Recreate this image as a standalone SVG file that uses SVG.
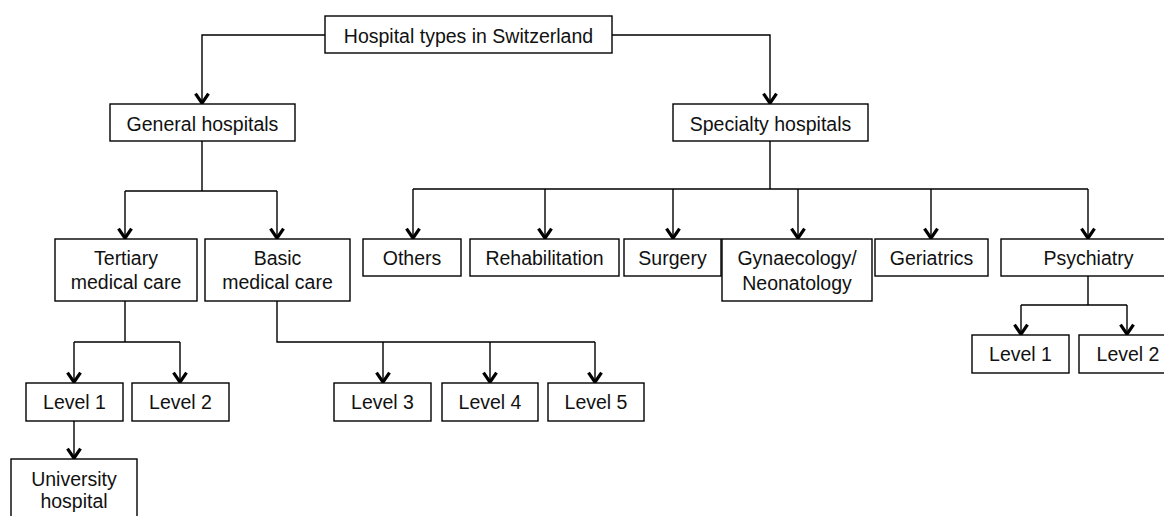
<svg xmlns="http://www.w3.org/2000/svg" width="1164" height="516" viewBox="0 0 1164 516">
  <style>
    .box { fill: #ffffff; stroke: #000000; stroke-width: 1.4; }
    .lbl { font-family: "Liberation Sans", Arial, Helvetica, sans-serif; font-size: 19.5px; fill: #111111; text-anchor: middle; }
    .edge { fill: none; stroke: #000000; stroke-width: 1.4; }
    .arrow { marker-end: url(#vhead); }
  </style>
  <defs>
    <marker id="vhead" markerUnits="userSpaceOnUse" markerWidth="20" markerHeight="20" viewBox="-14 -10 20 20" refX="0.8" refY="0" orient="auto">
      <path d="M-9.5,-6.5 L0,0 L-9.5,6.5" fill="none" stroke="#000000" stroke-width="3.2" stroke-linejoin="miter" stroke-linecap="butt"/>
    </marker>
  </defs>
  <rect width="1164" height="516" fill="#ffffff"/>

  <!-- connectors -->
  <g id="connectors">
    <!-- root to the two main categories -->
    <path class="edge arrow" d="M325,35 H202 V104"/>
    <path class="edge arrow" d="M612,35 H770 V104"/>
    <!-- general hospitals -->
    <path class="edge" d="M202,141 V191 M125,191 H277"/>
    <path class="edge arrow" d="M125,191 V239"/>
    <path class="edge arrow" d="M277,191 V239"/>
    <!-- specialty hospitals -->
    <path class="edge" d="M770,141 V189 M413,189 H1088"/>
    <path class="edge arrow" d="M413,189 V239"/>
    <path class="edge arrow" d="M545,189 V239"/>
    <path class="edge arrow" d="M673,189 V239"/>
    <path class="edge arrow" d="M798,189 V239"/>
    <path class="edge arrow" d="M931,189 V239"/>
    <path class="edge arrow" d="M1088,189 V239"/>
    <!-- tertiary medical care -->
    <path class="edge" d="M125,301 V342 M74,342 H180"/>
    <path class="edge arrow" d="M74,342 V383"/>
    <path class="edge arrow" d="M180,342 V383"/>
    <!-- basic medical care -->
    <path class="edge" d="M277,301 V342 H595"/>
    <path class="edge arrow" d="M383,342 V383"/>
    <path class="edge arrow" d="M490,342 V383"/>
    <path class="edge arrow" d="M595,342 V383"/>
    <!-- level 1 to university hospital -->
    <path class="edge arrow" d="M74,421 V459"/>
    <!-- psychiatry -->
    <path class="edge" d="M1088,276 V305 M1021,305 H1127"/>
    <path class="edge arrow" d="M1021,305 V335"/>
    <path class="edge arrow" d="M1127,305 V335"/>
  </g>

  <g id="root">
    <rect class="box" x="325" y="16" width="287" height="37"/>
    <text class="lbl" x="468.5" y="43">Hospital types in Switzerland</text>
  </g>

  <g id="general">
    <rect class="box" x="110" y="104" width="185" height="37"/>
    <text class="lbl" x="202.5" y="131">General hospitals</text>
  </g>
  <g id="specialty">
    <rect class="box" x="673" y="104" width="195" height="37"/>
    <text class="lbl" x="770.5" y="131">Specialty hospitals</text>
  </g>

  <g id="tertiary">
    <rect class="box" x="55" y="239" width="142" height="62"/>
    <text class="lbl" x="126" y="265">Tertiary</text>
    <text class="lbl" x="126" y="289">medical care</text>
  </g>
  <g id="basic">
    <rect class="box" x="205" y="239" width="145" height="62"/>
    <text class="lbl" x="277.5" y="265">Basic</text>
    <text class="lbl" x="277.5" y="289">medical care</text>
  </g>

  <g id="others">
    <rect class="box" x="363" y="239" width="98" height="37"/>
    <text class="lbl" x="412" y="265">Others</text>
  </g>
  <g id="rehabilitation">
    <rect class="box" x="470" y="239" width="149" height="37"/>
    <text class="lbl" x="544.5" y="265">Rehabilitation</text>
  </g>
  <g id="surgery">
    <rect class="box" x="624" y="239" width="97" height="37"/>
    <text class="lbl" x="672.5" y="265">Surgery</text>
  </g>
  <g id="gynaecology">
    <rect class="box" x="722" y="239" width="150" height="62"/>
    <text class="lbl" x="797" y="265">Gynaecology/</text>
    <text class="lbl" x="797" y="290">Neonatology</text>
  </g>
  <g id="geriatrics">
    <rect class="box" x="875" y="239" width="113" height="37"/>
    <text class="lbl" x="931.5" y="265">Geriatrics</text>
  </g>
  <g id="psychiatry">
    <rect class="box" x="1001" y="239" width="175" height="37"/>
    <text class="lbl" x="1088.5" y="265">Psychiatry</text>
  </g>

  <g id="tertiary-level1">
    <rect class="box" x="26" y="383" width="97" height="38"/>
    <text class="lbl" x="74.5" y="409">Level 1</text>
  </g>
  <g id="tertiary-level2">
    <rect class="box" x="132" y="383" width="97" height="38"/>
    <text class="lbl" x="180.5" y="409">Level 2</text>
  </g>

  <g id="basic-level3">
    <rect class="box" x="334" y="383" width="97" height="38"/>
    <text class="lbl" x="382.5" y="409">Level 3</text>
  </g>
  <g id="basic-level4">
    <rect class="box" x="442" y="383" width="96" height="38"/>
    <text class="lbl" x="490" y="409">Level 4</text>
  </g>
  <g id="basic-level5">
    <rect class="box" x="548" y="383" width="96" height="38"/>
    <text class="lbl" x="596" y="409">Level 5</text>
  </g>

  <g id="psychiatry-level1">
    <rect class="box" x="972" y="335" width="97" height="38"/>
    <text class="lbl" x="1020.5" y="361">Level 1</text>
  </g>
  <g id="psychiatry-level2">
    <rect class="box" x="1079" y="335" width="98" height="38"/>
    <text class="lbl" x="1128" y="361">Level 2</text>
  </g>

  <g id="university">
    <rect class="box" x="11" y="459" width="126" height="64"/>
    <text class="lbl" x="74" y="486">University</text>
    <text class="lbl" x="74" y="508">hospital</text>
  </g>
</svg>
